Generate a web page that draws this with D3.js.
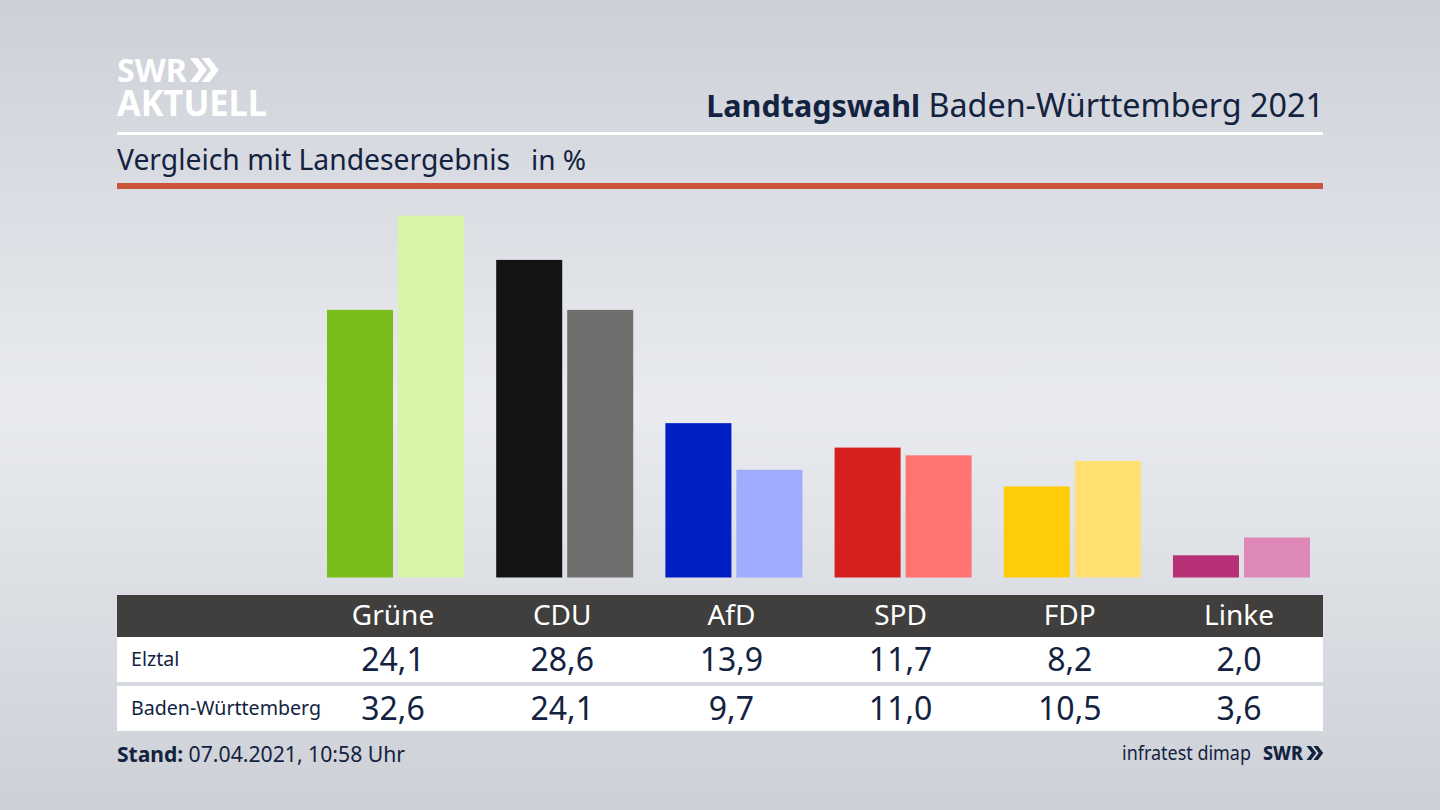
<!DOCTYPE html>
<html>
<head>
<meta charset="utf-8">
<script src="https://cdn.jsdelivr.net/npm/d3@7"></script>
<style>
html, body { margin: 0; padding: 0; background: #d8dbe0; }
svg { display: block; }
text { font-family: "Noto Sans", sans-serif; fill: #13233f; }
</style>
</head>
<body>
<svg id="chart" width="1440" height="810"></svg>
<script>
var parties = ["Grüne", "CDU", "AfD", "SPD", "FDP", "Linke"];
var regions = ["Elztal", "Baden-Württemberg"];
var elztal = [24.1, 28.6, 13.9, 11.7, 8.2, 2.0];
var landesergebnis = [32.6, 24.1, 9.7, 11.0, 10.5, 3.6];
var colorsElztal = ["#78bd1a", "#141414", "#0120c4", "#d71f20", "#ffcc08", "#b83176"];
var colorsLand = ["#d6f5a8", "#706f6d", "#9eabff", "#ff7370", "#ffe070", "#de88b8"];

var svg = d3.select("#chart");
var defs = svg.append("defs");

// vertical background, lightest around the middle
var bg = defs.append("linearGradient").attr("id", "bg")
    .attr("x1", 0).attr("y1", 0).attr("x2", 0).attr("y2", 1);
bg.append("stop").attr("offset", "0%").attr("stop-color", "#cdd0d7");
bg.append("stop").attr("offset", "50%").attr("stop-color", "#e9ebf0");
bg.append("stop").attr("offset", "100%").attr("stop-color", "#cdd0d6");
svg.append("rect").attr("width", 1440).attr("height", 810).attr("fill", "url(#bg)");

// scales
var x = d3.scaleBand().domain(parties).range([327, 1310]).paddingInner(0.19).paddingOuter(0);
var inner = d3.scaleBand().domain([0, 1]).range([0, x.bandwidth()]).paddingInner(0.07).paddingOuter(0);
var y = d3.scaleLinear().domain([0, 32.6]).range([577.5, 215.5]);

// the labels sit a little left of the bar pair centre
function labelX(p) { return x(p) + x.bandwidth() / 2 - 2.5; }

function chevrons(g, left, top, h, color) {
    var w = h * 0.38, t = h * 0.32;
    [0, 1].forEach(function(i) {
        var a = left + i * (w + t * 0.35);
        g.append("path")
            .attr("d", d3.line()([[a, top], [a + t, top], [a + t + w, top + h / 2], [a + t, top + h], [a, top + h], [a + w, top + h / 2]]) + "Z")
            .attr("fill", color);
    });
}

// logo
var logo = svg.append("g");
logo.append("text").attr("x", 117).attr("y", 82).attr("font-size", 33).attr("font-weight", 700)
    .style("fill", "#ffffff").attr("textLength", 70).attr("lengthAdjust", "spacingAndGlyphs").text("SWR");
logo.append("text").attr("x", 117).attr("y", 116).attr("font-size", 36).attr("font-weight", 700)
    .style("fill", "#ffffff").attr("textLength", 150).attr("lengthAdjust", "spacingAndGlyphs").text("AKTUELL");
chevrons(logo, 190, 58, 24, "#ffffff");

// title
var title = svg.append("text").attr("x", 1324).attr("y", 117).attr("text-anchor", "end");
title.append("tspan").attr("font-size", 30.5).attr("font-weight", 700).text("Landtagswahl");
title.append("tspan").attr("font-size", 32.3).text(" Baden-Württemberg 2021");

svg.append("rect").attr("x", 117).attr("y", 132).attr("width", 1206).attr("height", 3).attr("fill", "#ffffff");
svg.append("text").attr("x", 117).attr("y", 170).attr("font-size", 28.3).text("Vergleich mit Landesergebnis");
svg.append("text").attr("x", 531).attr("y", 170).attr("font-size", 28).text("in %");
svg.append("rect").attr("x", 117).attr("y", 183).attr("width", 1206).attr("height", 6).attr("fill", "#c9533b");

// bars
var groups = svg.selectAll(".party").data(parties).enter().append("g")
    .attr("class", "party")
    .attr("transform", function(p) { return "translate(" + x(p) + ",0)"; });
groups.append("rect")
    .attr("x", inner(0)).attr("width", inner.bandwidth())
    .attr("y", function(p, i) { return y(elztal[i]); })
    .attr("height", function(p, i) { return y(0) - y(elztal[i]); })
    .attr("fill", function(p, i) { return colorsElztal[i]; });
groups.append("rect")
    .attr("x", inner(1)).attr("width", inner.bandwidth())
    .attr("y", function(p, i) { return y(landesergebnis[i]); })
    .attr("height", function(p, i) { return y(0) - y(landesergebnis[i]); })
    .attr("fill", function(p, i) { return colorsLand[i]; });

// table
svg.append("rect").attr("x", 117).attr("y", 595).attr("width", 1206).attr("height", 42).attr("fill", "#403f3d");
svg.append("rect").attr("x", 117).attr("y", 637).attr("width", 1206).attr("height", 45).attr("fill", "#ffffff");
svg.append("rect").attr("x", 117).attr("y", 686).attr("width", 1206).attr("height", 45).attr("fill", "#ffffff");

svg.selectAll(".head").data(parties).enter().append("text")
    .attr("class", "head")
    .attr("x", labelX).attr("y", 625).attr("text-anchor", "middle").attr("font-size", 28)
    .style("fill", "#ffffff").text(function(p) { return p; });

var fmt = function(v) { return v.toFixed(1).replace(".", ","); };
[elztal, landesergebnis].forEach(function(values, r) {
    var base = r == 0 ? 671 : 720;
    svg.append("text").attr("x", 131).attr("y", base - 5).attr("font-size", 19.6).text(regions[r]);
    svg.selectAll(".val" + r).data(values).enter().append("text")
        .attr("class", "val" + r)
        .attr("x", function(v, i) { return labelX(parties[i]); })
        .attr("y", base).attr("text-anchor", "middle").attr("font-size", 32)
        .text(fmt);
});

// footer
var stand = svg.append("text").attr("x", 117).attr("y", 762);
stand.append("tspan").attr("font-size", 21).attr("font-weight", 700).text("Stand:");
stand.append("tspan").attr("font-size", 21.2).text(" 07.04.2021, 10:58 Uhr");

svg.append("text").attr("x", 1122).attr("y", 760).attr("font-size", 20)
    .attr("textLength", 129).attr("lengthAdjust", "spacingAndGlyphs").text("infratest dimap");
svg.append("text").attr("x", 1263).attr("y", 760).attr("font-size", 20).attr("font-weight", 800)
    .attr("textLength", 40).attr("lengthAdjust", "spacingAndGlyphs").text("SWR");
var small = svg.append("g");
chevrons(small, 1306.5, 746, 14, "#13233f");
</script>
</body>
</html>
